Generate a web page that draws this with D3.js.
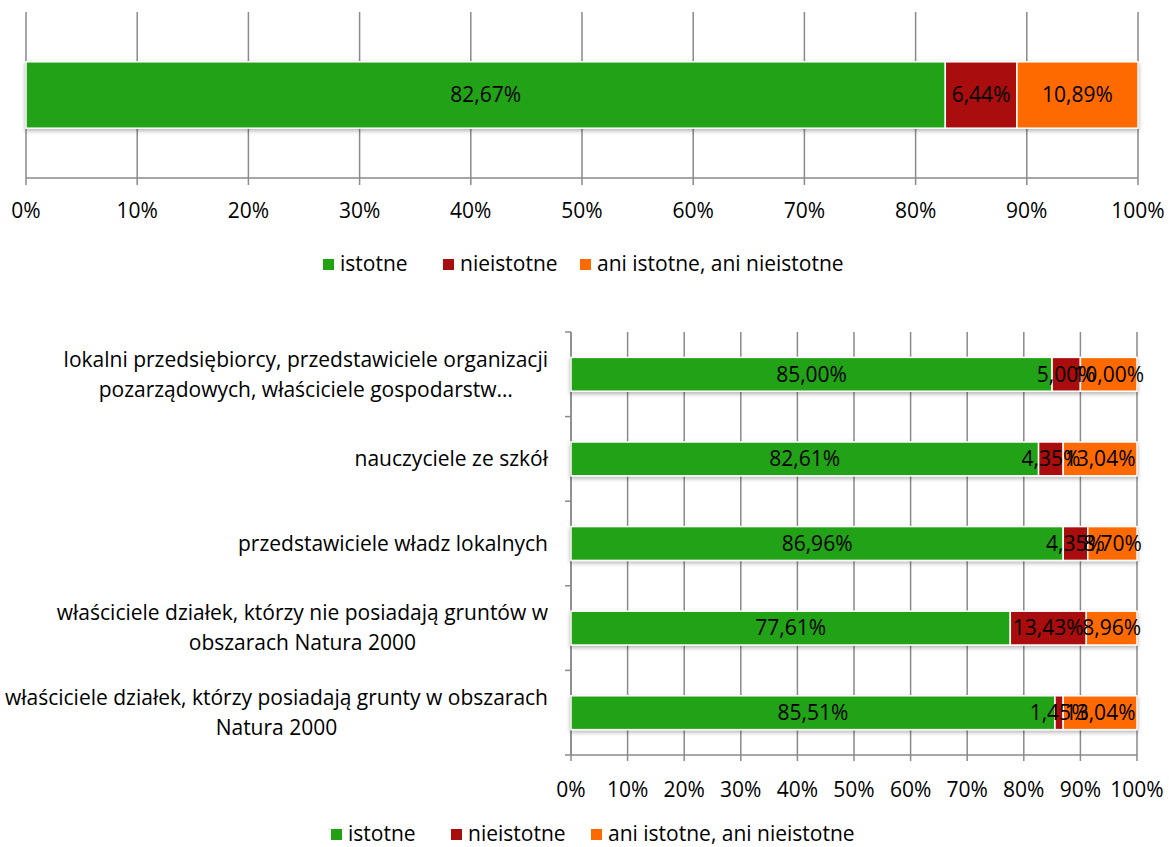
<!DOCTYPE html>
<html>
<head>
<meta charset="utf-8">
<script src="https://cdn.jsdelivr.net/npm/d3@7"></script>
<style>
  body { margin: 0; background: #fff; }
  svg { font-family: "Open Sans", sans-serif; }
</style>
</head>
<body>
<svg id="chart" width="1169" height="847"></svg>
<script>
// series names + colours
var seriesNames = ['istotne', 'nieistotne', 'ani istotne, ani nieistotne']
var seriesColors = ['#21a212', '#a90e0e', '#ff6a00']

// top chart: one bar
var topValues = [82.67, 6.44, 10.89]

// bottom chart: categories, top to bottom
var categories = [
  ['lokalni przedsiębiorcy, przedstawiciele organizacji', 'pozarządowych, właściciele gospodarstw…'],
  ['nauczyciele ze szkół'],
  ['przedstawiciele władz lokalnych'],
  ['właściciele działek, którzy nie posiadają gruntów w', 'obszarach Natura 2000'],
  ['właściciele działek, którzy posiadają grunty w obszarach', 'Natura 2000']
]
var istotne = [85.0, 82.61, 86.96, 77.61, 85.51]
var nieistotne = [5.0, 4.35, 4.35, 13.43, 1.45]
var ani = [10.0, 13.04, 8.7, 8.96, 13.04]

var ticks = [0, 10, 20, 30, 40, 50, 60, 70, 80, 90, 100]

var fontSize = 21
var gridColor = '#8a8a8a'
var fmt = v => v.toFixed(2).replace('.', ',') + '%'

var svg = d3.select('#chart')

var defs = svg.append('defs')
var shadow = defs.append('filter').attr('id', 'shadow')
  .attr('x', '-5%').attr('y', '-20%').attr('width', '110%').attr('height', '150%')
shadow.append('feDropShadow')
  .attr('dx', 0).attr('dy', 2).attr('stdDeviation', 2)
  .attr('flood-color', '#000').attr('flood-opacity', 0.3)

// turn one row of values into stacked segments
function stackRow(values) {
  var x0 = 0
  return values.map((v, i) => {
    var seg = { start: x0, end: x0 + v, value: v, i: i }
    x0 += v
    return seg
  })
}

function drawGrid(g, x, top, bottom, tickLen) {
  g.selectAll('.grid')
    .data(ticks)
    .enter()
    .append('line')
    .attr('x1', d => x(d)).attr('x2', d => x(d))
    .attr('y1', top).attr('y2', bottom + tickLen)
    .attr('stroke', gridColor).attr('stroke-width', 1.5)

  g.append('line')
    .attr('x1', x(0)).attr('x2', x(100))
    .attr('y1', bottom).attr('y2', bottom)
    .attr('stroke', gridColor).attr('stroke-width', 1.5)
}

function drawBars(g, x, rows, y, bandH) {
  rows.forEach((segs, r) => {
    var row = g.append('g').attr('filter', 'url(#shadow)')
    row.selectAll('rect')
      .data(segs)
      .enter()
      .append('rect')
      .attr('x', d => x(d.start))
      .attr('width', d => x(d.end) - x(d.start))
      .attr('y', y(r))
      .attr('height', bandH)
      .attr('fill', d => seriesColors[d.i])
      .attr('stroke', '#fff')
      .attr('stroke-width', 1.5)
  })
  rows.forEach((segs, r) => {
    g.selectAll('.lbl' + r)
      .data(segs)
      .enter()
      .append('text')
      .attr('x', d => x((d.start + d.end) / 2))
      .attr('y', y(r) + bandH / 2)
      .attr('dy', '0.35em')
      .attr('text-anchor', 'middle')
      .attr('font-size', fontSize)
      .attr('fill', '#000')
      .text(d => fmt(d.value))
  })
}

function drawTickLabels(g, x, yPos) {
  g.selectAll('.tl')
    .data(ticks)
    .enter()
    .append('text')
    .attr('x', d => x(d))
    .attr('y', yPos)
    .attr('dy', '0.35em')
    .attr('text-anchor', 'middle')
    .attr('font-size', fontSize)
    .text(d => d + '%')
}

function drawLegend(g, starts, yPos) {
  seriesNames.forEach((name, i) => {
    g.append('rect')
      .attr('x', starts[i]).attr('y', yPos - 5)
      .attr('width', 11).attr('height', 11)
      .attr('fill', seriesColors[i])
    g.append('text')
      .attr('x', starts[i] + 17).attr('y', yPos)
      .attr('dy', '0.35em')
      .attr('font-size', fontSize)
      .text(name)
  })
}

// ---------- top chart ----------
var top1 = svg.append('g')
var x1 = d3.scaleLinear().domain([0, 100]).range([26, 1138])
var y1 = d3.scaleBand().domain([0]).range([12, 178]).paddingInner(0.6).paddingOuter(0.3)
drawGrid(top1, x1, 12, 178, 7)
drawBars(top1, x1, [stackRow(topValues)], y1, y1.bandwidth())
drawTickLabels(top1, x1, 211)
drawLegend(top1, [323, 443, 580], 264)

// ---------- bottom chart ----------
var bot = svg.append('g')
var x2 = d3.scaleLinear().domain([0, 100]).range([571, 1137])
var y2 = d3.scaleBand().domain(d3.range(categories.length)).range([332, 755]).paddingInner(0.6).paddingOuter(0.3)
var rows2 = istotne.map((v, i) => stackRow([v, nieistotne[i], ani[i]]))
drawGrid(bot, x2, 332, 755, 6)

// y axis with category ticks
bot.append('line')
  .attr('x1', x2(0)).attr('x2', x2(0))
  .attr('y1', 332).attr('y2', 755)
  .attr('stroke', gridColor).attr('stroke-width', 1.5)
var catEdges = d3.range(categories.length + 1).map(i => 332 + i * y2.step())
bot.selectAll('.ytick')
  .data(catEdges)
  .enter()
  .append('line')
  .attr('x1', x2(0) - 6).attr('x2', x2(0))
  .attr('y1', d => d).attr('y2', d => d)
  .attr('stroke', gridColor).attr('stroke-width', 1.5)

drawBars(bot, x2, rows2, y2, y2.bandwidth())
drawTickLabels(bot, x2, 790)

// category labels: block right-aligned, lines centred within it
categories.forEach((lines, r) => {
  var cy = y2(r) + y2.bandwidth() / 2
  var lineH = 30
  var t = bot.append('g')
  var texts = lines.map((line, k) =>
    t.append('text')
      .attr('y', cy + (k - (lines.length - 1) / 2) * lineH)
      .attr('dy', '0.35em')
      .attr('text-anchor', 'middle')
      .attr('font-size', fontSize)
      .text(line)
  )
  var maxW = d3.max(texts, s => s.node().getComputedTextLength())
  texts.forEach(s => s.attr('x', 548 - maxW / 2))
})

drawLegend(bot, [331, 451, 591], 834)
</script>
</body>
</html>
